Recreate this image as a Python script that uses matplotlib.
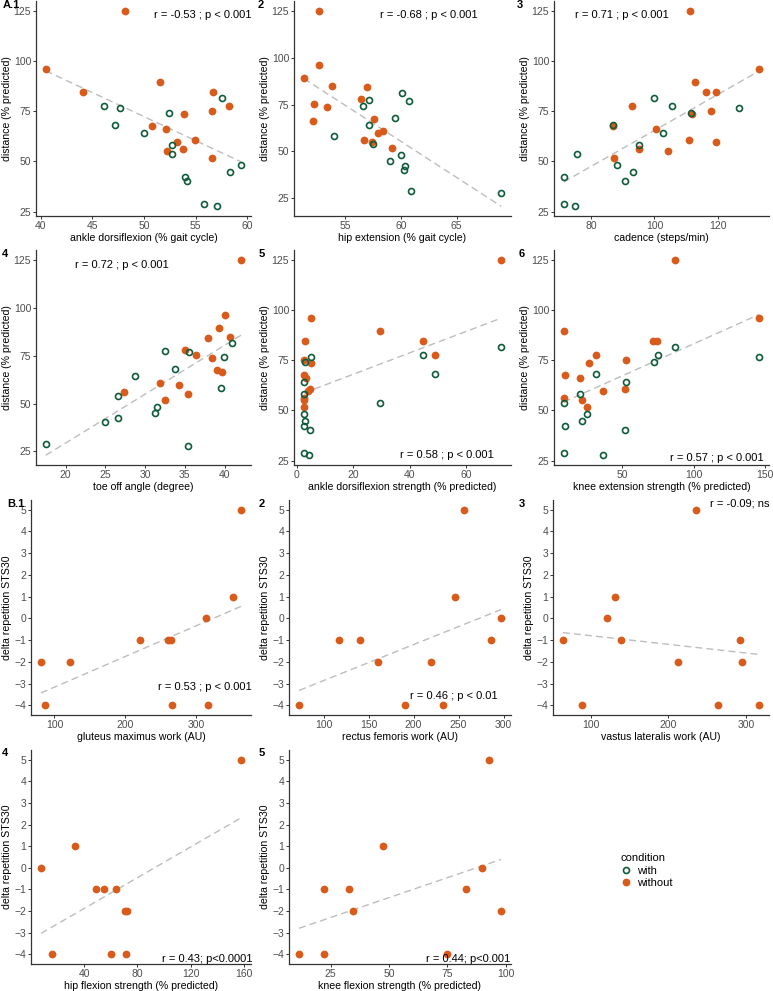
import numpy as np
import matplotlib.pyplot as plt
from matplotlib.lines import Line2D

plt.rcParams['font.family'] = ['Liberation Sans', 'DejaVu Sans']

# ---- data ----
# A: 6 minute walk distance vs gait / strength measures
dist_without = [125, 96, 89.3, 84.7, 84.4, 77.7, 75.3, 73.8, 67.5, 66.2, 60.8, 59.6, 56.0, 55.0, 51.7]
dist_with = [81.4, 77.5, 76.7, 74.2, 67.9, 64.2, 58.3, 53.8, 48.2, 44.8, 42.4, 40.3, 28.8, 27.7]

ankle_df_without = [48.2, 40.5, 51.5, 44.1, 56.7, 58.2, 56.6, 53.9, 50.8, 52.1, 54.9, 53.2, 53.8, 52.2, 56.6]
ankle_df_with = [57.5, 46.1, 47.7, 52.4, 47.2, 50.0, 52.7, 52.7, 59.4, 58.3, 54.0, 54.2, 55.8, 57.1]

hip_ext_without = [52.7, 52.7, 51.3, 53.8, 57.0, 56.4, 52.25, 53.4, 57.6, 52.1, 58.4, 57.95, 56.7, 57.4, 59.25]
hip_ext_with = [60.1, 57.1, 60.7, 56.6, 59.5, 57.1, 54.0, 57.5, 60.05, 59.07, 60.4, 60.3, 60.9, 69.0]

cadence_without = [111.2, 133.2, 112.8, 119.5, 116.4, 92.9, 117.8, 111.8, 86.8, 100.4, 111.0, 119.4, 95.2, 104.3, 87.3]
cadence_with = [99.8, 105.7, 126.8, 111.5, 86.8, 102.6, 95.0, 75.5, 88.3, 93.3, 71.3, 90.7, 71.3, 74.9]

toe_off_without = [42.1, 40.1, 39.3, 40.7, 37.9, 35.0, 36.4, 38.4, 39.0, 39.7, 31.9, 34.25, 27.4, 35.4, 32.5]
toe_off_with = [40.9, 32.5, 35.5, 39.9, 33.75, 28.7, 39.6, 26.6, 31.5, 31.2, 26.6, 24.95, 17.5, 35.4]

ankle_str_without = [72.5, 4.9, 29.4, 3.0, 44.8, 49.0, 2.5, 5.1, 2.6, 3.2, 4.8, 3.9, 2.7, 2.7, 2.7]
ankle_str_with = [72.5, 44.8, 4.9, 3.0, 49.0, 2.5, 2.7, 29.4, 2.7, 3.0, 2.7, 4.8, 2.7, 4.2]

knee_ext_without = [86.6, 145.8, 9.2, 71.8, 74.5, 31.7, 53.0, 27.1, 10.4, 20.3, 52.3, 36.3, 9.7, 22.0, 25.2]
knee_ext_with = [86.6, 74.8, 145.8, 72.0, 31.7, 53.0, 20.3, 9.2, 25.2, 22.2, 10.4, 52.3, 9.7, 36.3]

# B: delta repetitions in STS30 vs muscle work / strength
delta_sts30 = [5, 1, 0, -1, -1, -1, -2, -2, -4, -4, -4]
glut_max_work = [363, 352, 314, 221, 259.5, 265, 81, 121.5, 86, 266, 316]
rect_fem_work = [255.6, 245.6, 297.1, 116.7, 140, 286, 160.8, 219.7, 72.7, 190, 232.7]
vast_lat_work = [235.8, 130.9, 120.2, 63.8, 138.6, 292.2, 212, 295, 89, 264, 317]
hip_flex_str = [157.7, 32.9, 7.7, 48.7, 55.1, 63.7, 70.4, 72.4, 16.0, 60.5, 71.4]
knee_flex_str = [92.8, 47.4, 90, 22, 32.9, 83.1, 34.6, 98, 11.5, 22, 74.9]

GREEN = '#0f5c3a'
ORANGE = '#d95b1c'
W, H = 773, 991

fig = plt.figure(figsize=(W / 100, H / 100), dpi=100)


def box(left, top, right, bottom):
    # pixel box -> figure fraction
    return [left / W, 1 - bottom / H, (right - left) / W, (bottom - top) / H]


def ftext(x, y, s, **kw):
    fig.text(x / W, 1 - y / H, s, **kw)


def panel(rect, x_wo, y_wo, x_w, y_w, xlabel, ylabel, xticks, yticks):
    ax = fig.add_axes(box(*rect))
    allx = np.array(x_wo + x_w, dtype=float)
    ally = np.array(y_wo + y_w, dtype=float)
    slope, icpt = np.polyfit(allx, ally, 1)
    lx = np.array([allx.min(), allx.max()])
    ly = slope * lx + icpt

    ax.plot(x_wo, y_wo, 'o', ms=5.6, color=ORANGE, mec='none', zorder=3)
    if x_w:
        ax.plot(x_w, y_w, 'o', ms=4.3, mfc='none', mec=GREEN, mew=1.2, zorder=4)
    ax.plot(lx, ly, ls=(0, (5, 3)), color='#bdbdbd', lw=1.0, zorder=2)

    # ggplot-like 5% expansion, fit line included
    x0, x1 = allx.min(), allx.max()
    yy = np.concatenate([ally, ly])
    y0, y1 = yy.min(), yy.max()
    ax.set_xlim(x0 - 0.05 * (x1 - x0), x1 + 0.05 * (x1 - x0))
    ax.set_ylim(y0 - 0.05 * (y1 - y0), y1 + 0.05 * (y1 - y0))
    ax.set_xticks(xticks)
    ax.set_yticks(yticks)

    for s in ['top', 'right']:
        ax.spines[s].set_visible(False)
    for s in ['left', 'bottom']:
        ax.spines[s].set_color('#333333')
        ax.spines[s].set_linewidth(0.9)
    ax.tick_params(length=2, width=0.7, color='#333333', labelcolor='#4d4d4d',
                   labelsize=7.5, pad=1.5)
    ax.set_xlabel(xlabel, fontsize=7.6, labelpad=1.5)
    ax.set_ylabel(ylabel, fontsize=7.6, labelpad=1.5)
    return ax


dist_lab = 'distance (% predicted)'
sts_lab = 'delta repetition STS30'
dist_ticks = [25, 50, 75, 100, 125]
sts_ticks = list(range(-4, 6))

# row 1
panel((36, 1, 251, 216), ankle_df_without, dist_without, ankle_df_with, dist_with,
      'ankle dorsiflexion (% gait cycle)', dist_lab, [40, 45, 50, 55, 60], dist_ticks)
panel((294, 1, 511, 216), hip_ext_without, dist_without, hip_ext_with, dist_with,
      'hip extension (% gait cycle)', dist_lab, [55, 60, 65], dist_ticks)
panel((554, 1, 769, 216), cadence_without, dist_without, cadence_with, dist_with,
      'cadence (steps/min)', dist_lab, [80, 100, 120], dist_ticks)
# row 2
panel((36, 250, 251, 465), toe_off_without, dist_without, toe_off_with, dist_with,
      'toe off angle (degree)', dist_lab, [20, 25, 30, 35, 40], dist_ticks)
panel((294, 250, 511, 465), ankle_str_without, dist_without, ankle_str_with, dist_with,
      'ankle dorsiflexion strength (% predicted)', dist_lab, [0, 20, 40, 60], dist_ticks)
panel((554, 250, 769, 465), knee_ext_without, dist_without, knee_ext_with, dist_with,
      'knee extension strength (% predicted)', dist_lab, [50, 100, 150], dist_ticks)
# row 3
panel((31, 500, 251, 715), glut_max_work, delta_sts30, [], [],
      'gluteus maximus work (AU)', sts_lab, [100, 200, 300], sts_ticks)
panel((289, 500, 511, 715), rect_fem_work, delta_sts30, [], [],
      'rectus femoris work (AU)', sts_lab, [100, 150, 200, 250, 300], sts_ticks)
panel((553, 500, 769, 715), vast_lat_work, delta_sts30, [], [],
      'vastus lateralis work (AU)', sts_lab, [100, 200, 300], sts_ticks)
# row 4
panel((31, 750, 251, 964), hip_flex_str, delta_sts30, [], [],
      'hip flexion strength (% predicted)', sts_lab, [40, 80, 120, 160], sts_ticks)
panel((289, 750, 511, 964), knee_flex_str, delta_sts30, [], [],
      'knee flexion strength (% predicted)', sts_lab, [25, 50, 75, 100], sts_ticks)

# panel tags
tag_kw = dict(fontsize=8, fontweight='bold', ha='left', va='center')
ftext(3, 5, 'A.1', **tag_kw)
ftext(258, 5, '2', **tag_kw)
ftext(517, 5, '3', **tag_kw)
ftext(2, 254, '4', **tag_kw)
ftext(259, 254, '5', **tag_kw)
ftext(519, 254, '6', **tag_kw)
ftext(7, 504, 'B.1', **tag_kw)
ftext(259, 504, '2', **tag_kw)
ftext(519, 504, '3', **tag_kw)
ftext(2, 753, '4', **tag_kw)
ftext(259, 753, '5', **tag_kw)

# correlation notes
note_kw = dict(fontsize=8, ha='center', va='center', color='black')
ftext(203, 15, 'r = -0.53 ; p < 0.001', **note_kw)
ftext(429, 15, 'r = -0.68 ; p < 0.001', **note_kw)
ftext(622, 15, 'r = 0.71 ; p < 0.001', **note_kw)
ftext(122, 265, 'r = 0.72 ; p < 0.001', **note_kw)
ftext(447, 455, 'r = 0.58 ; p < 0.001', **note_kw)
ftext(717, 458, 'r = 0.57 ; p < 0.001', **note_kw)
ftext(205, 687, 'r = 0.53 ; p < 0.001', **note_kw)
ftext(454, 696, 'r = 0.46 ; p < 0.01', **note_kw)
ftext(740, 504, 'r = -0.09; ns', **note_kw)
ftext(207, 959, 'r = 0.43; p<0.0001', **note_kw)
ftext(468, 959, 'r = 0.44; p<0.001', **note_kw)

# legend
handles = [
    Line2D([], [], ls='', marker='o', ms=4.3, mfc='none', mec=GREEN, mew=1.2, label='with'),
    Line2D([], [], ls='', marker='o', ms=5.6, color=ORANGE, mec='none', label='without'),
]
fig.legend(handles=handles, title='condition', loc='upper left',
           bbox_to_anchor=(613 / W, 1 - 845 / H), frameon=False, fontsize=8,
           title_fontsize=8, alignment='left', handlelength=1.0,
           handletextpad=0.5, labelspacing=0.25, borderpad=0.2)

fig.savefig('out.png', dpi=100)
